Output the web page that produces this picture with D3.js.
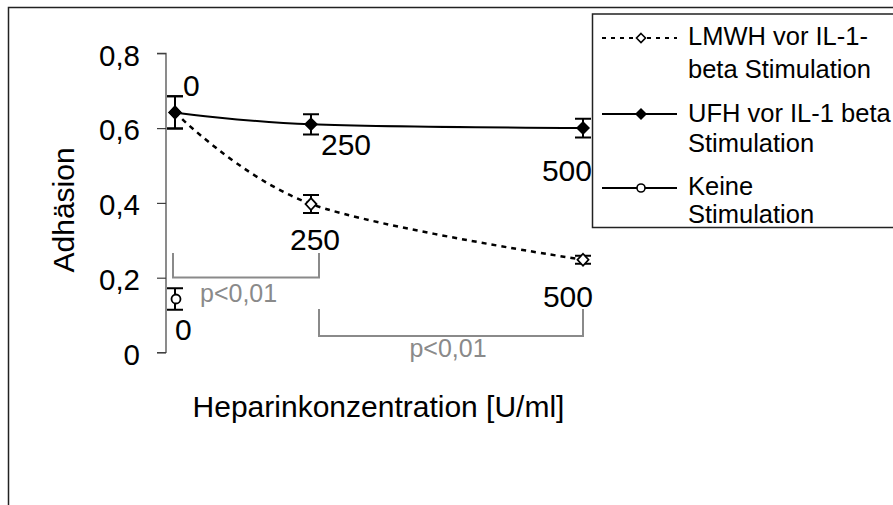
<!DOCTYPE html>
<html>
<head>
<meta charset="utf-8">
<script src="https://cdn.jsdelivr.net/npm/d3@7"></script>
<style>
  html, body { margin: 0; padding: 0; background: #fff; }
  svg { display: block; font-family: "Liberation Sans", Arial, sans-serif; }
</style>
</head>
<body>
<svg id="chart" width="893" height="505"></svg>
<script>
// ---- data ----
const concentrations = [0, 250, 500];
const concLabels = ["0", "250", "500"];
const lmwhValues = [0.642, 0.397, 0.248];
const lmwhErrors = [0.043, 0.024, 0.011];
const ufhValues = [0.642, 0.610, 0.600];
const ufhErrors = [0.043, 0.027, 0.025];
const noStimConc = [0];
const noStimValues = [0.143];
const noStimErrors = [0.029];
const yTicks = [0, 0.2, 0.4, 0.6, 0.8];
const legendLabels = [
  ["LMWH vor IL-1-", "beta Stimulation"],
  ["UFH vor IL-1 beta", "Stimulation"],
  ["Keine", "Stimulation"]
];
const yTitle = "Adhäsion";
const xTitle = "Heparinkonzentration [U/ml]";
const pLabel = "p<0,01";

// ---- layout ----
const svg = d3.select("#chart");
const x = d3.scaleLinear().domain([0, 250, 500]).range([175, 311, 583]);
const y = d3.scaleLinear().domain([0, 0.8]).range([352.5, 53.3]);
const fmt = v => d3.format(".1f")(v).replace(".", ",");

// outer frame (partially cropped)
svg.append("path").attr("d", "M8.5,505 V7.5 H900")
  .attr("fill", "none").attr("stroke", "#222").attr("stroke-width", 1.5);

// y axis
const yAxis = d3.axisLeft(y).tickValues(yTicks)
  .tickFormat(v => v === 0 ? "0" : fmt(v)).tickSize(9).tickPadding(17);
const gy = svg.append("g").attr("transform", "translate(166,0)").call(yAxis);
gy.select(".domain").attr("stroke", "#404040").attr("stroke-width", 1.2).attr("d", `M-9,${y(0.8)}H0V${y(0)}H-9`);
gy.selectAll(".tick line").attr("stroke", "#404040").attr("stroke-width", 1.2);
gy.selectAll(".tick text").attr("font-size", 29.5).attr("fill", "#000").attr("dy", "0.4em")
  .attr("font-family", "Liberation Sans, Arial, sans-serif");

// axis titles
svg.append("text").attr("transform", `translate(74,${(y(0) + y(0.8)) / 2 + 7}) rotate(-90)`)
  .attr("text-anchor", "middle").attr("font-size", 30).text(yTitle);
svg.append("text").attr("x", 378.5).attr("y", 416.5)
  .attr("text-anchor", "middle").attr("font-size", 30).text(xTitle);

// significance brackets
const grey = "#8a8a8a";
function bracket(c0, off0, c1, off1, yTop, yBot) {
  svg.append("path").attr("d", `M${x(c0) + off0},${yTop}V${yBot}H${x(c1) + off1}V${yTop}`)
    .attr("fill", "none").attr("stroke", grey).attr("stroke-width", 2);
}
bracket(0, -2, 250, 8, 253, 277.5);
svg.append("text").attr("x", 200).attr("y", 301.5).attr("font-size", 25).attr("fill", grey).text(pLabel);
bracket(250, 8, 500, 0, 309, 336);
svg.append("text").attr("x", 448).attr("y", 357).attr("text-anchor", "middle")
  .attr("font-size", 25).attr("fill", grey).text(pLabel);

// lines
const lineGen = d3.line().x(d => x(d[0])).y(d => y(d[1])).curve(d3.curveCatmullRom.alpha(0));
svg.append("path").datum(concentrations.map((c, i) => [c, lmwhValues[i]]))
  .attr("d", lineGen).attr("fill", "none").attr("stroke", "#000")
  .attr("stroke-width", 2.5).attr("stroke-dasharray", "5,5");
svg.append("path").datum(concentrations.map((c, i) => [c, ufhValues[i]]))
  .attr("d", lineGen).attr("fill", "none").attr("stroke", "#000").attr("stroke-width", 2);

// error bars
function errorBars(conc, vals, errs, cap) {
  const g = svg.append("g").attr("stroke", "#000").attr("stroke-width", 2).attr("fill", "none");
  conc.forEach((c, i) => {
    const cx = x(c), t = y(vals[i] + errs[i]), b = y(vals[i] - errs[i]);
    g.append("path").attr("d", `M${cx},${t}V${b}M${cx - cap},${t}H${cx + cap}M${cx - cap},${b}H${cx + cap}`);
  });
}
errorBars(noStimConc, noStimValues, noStimErrors, 8);
errorBars(concentrations, lmwhValues, lmwhErrors, 8);
errorBars(concentrations, ufhValues, ufhErrors, 8);

// markers
const diamond = (w, h) => `M0,${-h}L${w},0L0,${h}L${-w},0Z`;
concentrations.forEach((c, i) => {
  svg.append("path").attr("d", diamond(5.5, 6)).attr("transform", `translate(${x(c)},${y(lmwhValues[i])})`)
    .attr("fill", "#fff").attr("stroke", "#000").attr("stroke-width", 1.8);
});
concentrations.forEach((c, i) => {
  svg.append("path").attr("d", diamond(7, 7)).attr("transform", `translate(${x(c)},${y(ufhValues[i])})`)
    .attr("fill", "#000");
});
noStimConc.forEach((c, i) => {
  svg.append("circle").attr("cx", x(c) + 1).attr("cy", y(noStimValues[i])).attr("r", 4.5)
    .attr("fill", "#fff").attr("stroke", "#000").attr("stroke-width", 1.8);
});

// data labels
const dl = svg.append("g").attr("font-size", 30).attr("fill", "#000");
dl.append("text").attr("x", x(0) + 8).attr("y", 96).text(concLabels[0]);
dl.append("text").attr("x", x(250) + 10).attr("y", 155).text(concLabels[1]);
dl.append("text").attr("x", x(500) + 9).attr("y", 181).attr("text-anchor", "end").text(concLabels[2]);
dl.append("text").attr("x", x(250) + 4).attr("y", 250).attr("text-anchor", "middle").text(concLabels[1]);
dl.append("text").attr("x", x(500) + 10).attr("y", 306.5).attr("text-anchor", "end").text(concLabels[2]);
dl.append("text").attr("x", x(0)).attr("y", 340).text(concLabels[0]);

// legend
const lg = svg.append("g");
lg.append("rect").attr("x", 592.5).attr("y", 14).attr("width", 320).attr("height", 213.5)
  .attr("fill", "#fff").attr("stroke", "#222").attr("stroke-width", 1.5);
const legY = [38, 114, 188];
const baseOffsets = [[45, 78], [122, 152], [195, 223]];
legendLabels.forEach((lines, i) => {
  const yy = legY[i];
  const ln = lg.append("line").attr("x1", 602).attr("x2", 677).attr("y1", yy).attr("y2", yy)
    .attr("stroke", "#000").attr("stroke-width", i === 0 ? 2 : 1.8);
  if (i === 0) ln.attr("stroke-dasharray", "4,5");
  if (i === 0) {
    lg.append("path").attr("d", diamond(4.5, 4.5)).attr("transform", `translate(641,${yy})`)
      .attr("fill", "#fff").attr("stroke", "#000").attr("stroke-width", 1.6);
  } else if (i === 1) {
    lg.append("path").attr("d", diamond(6, 6)).attr("transform", `translate(641,${yy})`).attr("fill", "#000");
  } else {
    lg.append("circle").attr("cx", 641).attr("cy", yy).attr("r", 4).attr("fill", "#fff")
      .attr("stroke", "#000").attr("stroke-width", 1.6);
  }
  lines.forEach((t, j) => {
    lg.append("text").attr("x", 688).attr("y", baseOffsets[i][j]).attr("font-size", 25.5).text(t);
  });
});
</script>
</body>
</html>
